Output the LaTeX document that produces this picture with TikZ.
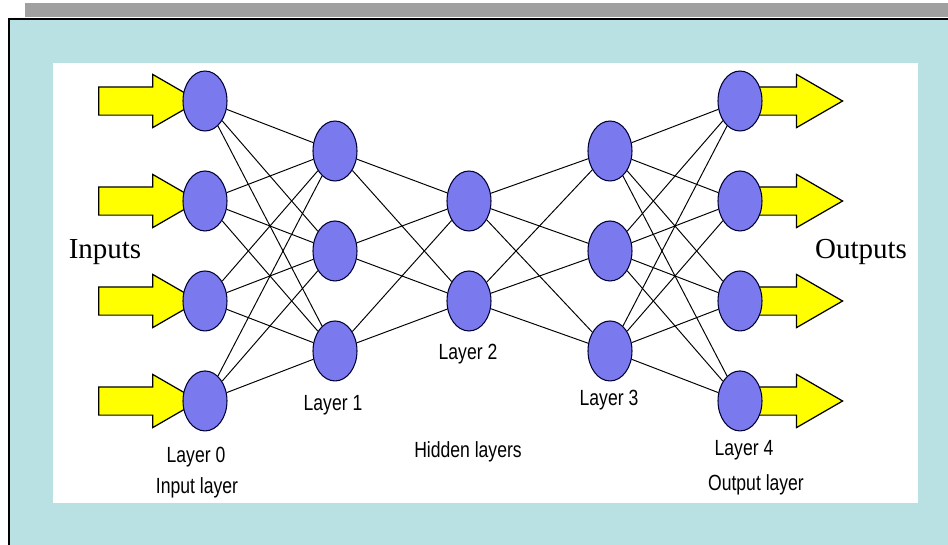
\documentclass[tikz,border=0pt]{standalone}
\usepackage{fontspec}
\setmainfont{Liberation Serif}
\newfontfamily\lblfont{Liberation Sans}[FakeStretch=0.8]
\usetikzlibrary{positioning,shapes.geometric,shapes.arrows}
\definecolor{panelblue}{RGB}{185,224,227}
\definecolor{bargray}{RGB}{160,160,160}
\definecolor{neuronblue}{RGB}{122,122,238}
\definecolor{arrowyellow}{RGB}{255,255,0}

\begin{document}
\begin{tikzpicture}[x=0.02cm, y=-0.02cm,
  node distance=2cm, on grid,
  neuron/.style={draw=black!80!blue, ellipse, fill=neuronblue, line width=0.6pt, minimum width=0.88cm, minimum height=1.2cm, inner sep=0pt},
  yarrow/.style={draw, single arrow, fill=arrowyellow, line width=0.7pt, minimum height=2cm, inner xsep=0pt, inner ysep=0.27cm, single arrow head extend=0.25cm, single arrow tip angle=60},
  link/.style={line width=0.55pt},
  lbl/.style={font=\lblfont\fontsize{12.5}{14}\selectfont, inner sep=0pt, anchor=base},
  big/.style={font=\fontsize{16.5}{19}\selectfont, inner sep=0pt, anchor=base}]
\useasboundingbox (0,0) rectangle (948,545);
\clip (0,0) rectangle (948,545);
% frame
\fill[white] (0,0) rectangle (948,545);
\fill[bargray] (25,3) rectangle (960,17);
\draw[fill=panelblue, line width=1.2pt] (9,19) rectangle (970,570);
\fill[white] (53,63) rectangle (918,503);
% yellow arrows
\node[yarrow, anchor=tip] (in1) at (200,101) {};
\node[yarrow, anchor=tip] (in2) at (200,201) {};
\node[yarrow, anchor=tip] (in3) at (200,301) {};
\node[yarrow, anchor=tip] (in4) at (200,401) {};
\node[yarrow, anchor=tail] (out1) at (742,101) {};
\node[yarrow, anchor=tail] (out2) at (742,201) {};
\node[yarrow, anchor=tail] (out3) at (742,301) {};
\node[yarrow, anchor=tail] (out4) at (742,401) {};
% layer 0
\node[neuron] (a1) at (205,101) {};
\node[neuron, below=of a1] (a2) {};
\node[neuron, below=of a2] (a3) {};
\node[neuron, below=of a3] (a4) {};
% layer 1
\node[neuron] (b1) at (335,151) {};
\node[neuron, below=of b1] (b2) {};
\node[neuron, below=of b2] (b3) {};
% layer 2
\node[neuron] (c1) at (469,201) {};
\node[neuron, below=of c1] (c2) {};
% layer 3
\node[neuron] (d1) at (610,151) {};
\node[neuron, below=of d1] (d2) {};
\node[neuron, below=of d2] (d3) {};
% layer 4
\node[neuron] (e1) at (740,101) {};
\node[neuron, below=of e1] (e2) {};
\node[neuron, below=of e2] (e3) {};
\node[neuron, below=of e3] (e4) {};
% weights
\foreach \i in {1,...,4} \foreach \j in {1,2,3} \draw[link] (a\i) -- (b\j);
\foreach \i in {1,2,3} \foreach \j in {1,2} \draw[link] (b\i) -- (c\j);
\foreach \i in {1,2} \foreach \j in {1,2,3} \draw[link] (c\i) -- (d\j);
\foreach \i in {1,2,3} \foreach \j in {1,...,4} \draw[link] (d\i) -- (e\j);
% texts
\node[big] (inputs) at (105,258) {Inputs};
\node[big] (outputs) at (861,258) {Outputs};
\node[lbl] (lay0) at (196,462) {Layer 0};
\node[lbl] (inlay) at (197,493) {Input layer};
\node[lbl] (lay1) at (333,410) {Layer 1};
\node[lbl] (lay2) at (468,359) {Layer 2};
\node[lbl] (hidden) at (468,457) {Hidden layers};
\node[lbl] (lay3) at (609,405) {Layer 3};
\node[lbl] (lay4) at (744,455) {Layer 4};
\node[lbl] (outlay) at (756,490) {Output layer};
\end{tikzpicture}
\end{document}
